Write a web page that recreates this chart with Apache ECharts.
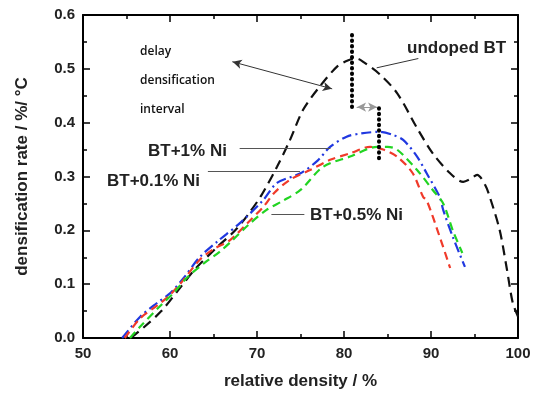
<!DOCTYPE html>
<html>
<head>
<meta charset="utf-8">
<script src="https://cdn.jsdelivr.net/npm/echarts@6/dist/echarts.min.js"></script>
<style>
  html, body { margin: 0; padding: 0; background: #fff; }
  #chart { width: 542px; height: 398px; }
</style>
</head>
<body>
<div id="chart"></div>
<script>
// 曲线数据 (relative density %, densification rate %/°C)
var undopedX = [55.5, 57, 59, 61, 63, 65.5, 67.5, 69, 70.5, 72.3, 73.8, 75.3, 77.2, 79.2, 80.5, 81.5, 82.3, 84.1, 86.1, 88.4, 90.2, 92.2, 93.7, 94.5, 95.3, 96.2, 96.8, 97.9, 98.7, 99.4, 100];
var undopedY = [0, 0.02, 0.05, 0.09, 0.13, 0.17, 0.2, 0.23, 0.265, 0.318, 0.368, 0.424, 0.467, 0.504, 0.516, 0.519, 0.512, 0.49, 0.455, 0.39, 0.343, 0.306, 0.29, 0.295, 0.303, 0.285, 0.26, 0.2, 0.13, 0.065, 0.04];

var ni1X = [54.5, 56.6, 58.5, 60, 61.5, 63.4, 65.5, 68, 70.7, 72.3, 75, 77, 78.4, 80.3, 82, 84.1, 85.5, 86.8, 88.4, 89.5, 91, 91.4, 92.5, 93.9];
var ni1Y = [0, 0.04, 0.065, 0.083, 0.11, 0.15, 0.18, 0.213, 0.256, 0.288, 0.306, 0.33, 0.355, 0.374, 0.38, 0.383, 0.378, 0.368, 0.337, 0.306, 0.262, 0.238, 0.188, 0.132];

var ni01X = [54.8, 56.6, 58.5, 60, 61.5, 63.4, 65, 66.9, 69, 70.8, 72, 73.8, 76.1, 78.4, 80.7, 83, 84.5, 86.1, 87.9, 89.1, 89.5, 91, 92.2];
var ni01Y = [0, 0.037, 0.06, 0.08, 0.107, 0.145, 0.165, 0.182, 0.215, 0.245, 0.27, 0.294, 0.312, 0.331, 0.343, 0.355, 0.35, 0.337, 0.306, 0.262, 0.256, 0.188, 0.13];

var ni05X = [55.4, 56.5, 58.9, 60.5, 62, 64, 65.7, 67.2, 69, 71.1, 73, 75, 77.6, 80.7, 83.8, 85, 86.1, 88.4, 90.2, 91.4, 92.5, 93.6];
var ni05Y = [0, 0.02, 0.06, 0.085, 0.113, 0.14, 0.16, 0.182, 0.21, 0.238, 0.255, 0.275, 0.318, 0.337, 0.355, 0.355, 0.35, 0.312, 0.275, 0.25, 0.2, 0.158];

// 坐标轴
var xMin = 50, xMax = 100, xStep = 10;
var yMin = 0, yMax = 0.6, yStep = 0.1;

// 注释线 (数据坐标)
var delayArrow = [[67.2, 0.513], [78.6, 0.463]];
var dotLine1 = [[80.9, 0.563], [80.9, 0.424]];
var dotLine2 = [[84.0, 0.427], [84.0, 0.327]];
var grayArrow = [[81.5, 0.429], [83.8, 0.429]];
var leaderUndoped = [[88.5, 0.519], [83.8, 0.502]];
var leaderNi1 = [[68.05, 0.353], [78.4, 0.353]];
var leaderNi01 = [[64.4, 0.309], [74.9, 0.309]];
var leaderNi05 = [[71.7, 0.23], [75.4, 0.23]];

function zip(xs, ys) {
    var out = [];
    for (var i = 0; i < xs.length; i++) out.push([xs[i], ys[i]]);
    return out;
}

function seg(p, color, width, type, symbol) {
    return [{ coord: p[0], symbol: symbol ? symbol[0] : 'none', lineStyle: { color: color, width: width, type: type, cap: 'round' } },
            { coord: p[1], symbol: symbol ? symbol[1] : 'none' }];
}

var font = 'Liberation Sans, Arial, sans-serif';

function curve(name, data, color, dash) {
    return {
        name: name,
        type: 'line',
        data: data,
        showSymbol: false,
        smooth: 0.3,
        lineStyle: { color: color, width: 2.2, type: dash },
        z: 3
    };
}

// 坐标轴公共样式，刻度朝内
function axis(extra) {
    return Object.assign({
        type: 'value',
        axisLine: { show: true, onZero: false, lineStyle: { color: '#000', width: 2 } },
        axisTick: { show: true, inside: true, length: 7, lineStyle: { color: '#000', width: 1.5 } },
        minorTick: { show: true, splitNumber: 2, length: 4, lineStyle: { color: '#000', width: 1.5 } },
        splitLine: { show: false }
    }, extra);
}

var myChart = echarts.init(document.getElementById('chart'));

var option = {
    animation: false,
    grid: { left: 83, right: 24, top: 15, bottom: 60 },
    xAxis: [
        axis({
            position: 'bottom', min: xMin, max: xMax, interval: xStep,
            name: 'relative density / %', nameLocation: 'middle', nameGap: 35,
            nameTextStyle: { fontFamily: font, fontWeight: 'bold', fontSize: 17, color: '#222' },
            axisLabel: { fontFamily: font, fontWeight: 'bold', fontSize: 15, color: '#222', margin: 8 }
        }),
        axis({ position: 'top', min: xMin, max: xMax, interval: xStep, axisLabel: { show: false } })
    ],
    yAxis: [
        axis({
            position: 'left', min: yMin, max: yMax, interval: yStep,
            name: 'densification rate / %/ °C', nameLocation: 'middle', nameGap: 52,
            nameTextStyle: { fontFamily: font, fontWeight: 'bold', fontSize: 17, color: '#222' },
            axisLabel: { fontFamily: font, fontWeight: 'bold', fontSize: 15, color: '#222', margin: 8,
                formatter: function (v) { return v.toFixed(1); } }
        }),
        axis({ position: 'right', min: yMin, max: yMax, interval: yStep, axisLabel: { show: false } })
    ],
    series: [
        curve('undoped BT', zip(undopedX, undopedY), '#111', [10, 6]),
        curve('BT+1% Ni', zip(ni1X, ni1Y), '#2038e0', [10, 4, 2, 4]),
        curve('BT+0.1% Ni', zip(ni01X, ni01Y), '#f03a2a', [8, 5]),
        curve('BT+0.5% Ni', zip(ni05X, ni05Y), '#22d422', [8, 5]),
        {
            type: 'line', data: [], silent: true,
            markLine: {
                silent: true, animation: false,
                label: { show: false },
                symbolSize: [7, 9],
                data: [
                    seg(delayArrow, '#333', 1, 'solid', ['arrow', 'arrow']),
                    seg(grayArrow, '#999', 1, 'solid', ['arrow', 'arrow']),
                    seg(dotLine1, '#000', 4, [0.5, 5]),
                    seg(dotLine2, '#000', 4, [0.5, 5]),
                    seg(leaderUndoped, '#333', 1, 'solid'),
                    seg(leaderNi1, '#555', 1, 'solid'),
                    seg(leaderNi01, '#555', 1, 'solid'),
                    seg(leaderNi05, '#555', 1, 'solid')
                ]
            }
        }
    ],
    graphic: [
        { type: 'text', left: 140, top: 46, style: { text: 'delay', font: '600 12px "Open Sans", sans-serif', fill: '#111' } },
        { type: 'text', left: 140, top: 75, style: { text: 'densification', font: '600 12px "Open Sans", sans-serif', fill: '#111' } },
        { type: 'text', left: 140, top: 104, style: { text: 'interval', font: '600 12px "Open Sans", sans-serif', fill: '#111' } },
        { type: 'text', left: 407, top: 40, style: { text: 'undoped BT', font: 'bold 17px Liberation Sans, Arial, sans-serif', fill: '#222' } },
        { type: 'text', left: 148, top: 143, style: { text: 'BT+1% Ni', font: 'bold 17px Liberation Sans, Arial, sans-serif', fill: '#222' } },
        { type: 'text', left: 107, top: 173, style: { text: 'BT+0.1% Ni', font: 'bold 17px Liberation Sans, Arial, sans-serif', fill: '#222' } },
        { type: 'text', left: 310, top: 207, style: { text: 'BT+0.5% Ni', font: 'bold 17px Liberation Sans, Arial, sans-serif', fill: '#222' } }
    ]
};

myChart.setOption(option);
window.onresize = function () { myChart.resize(); };
</script>
</body>
</html>
